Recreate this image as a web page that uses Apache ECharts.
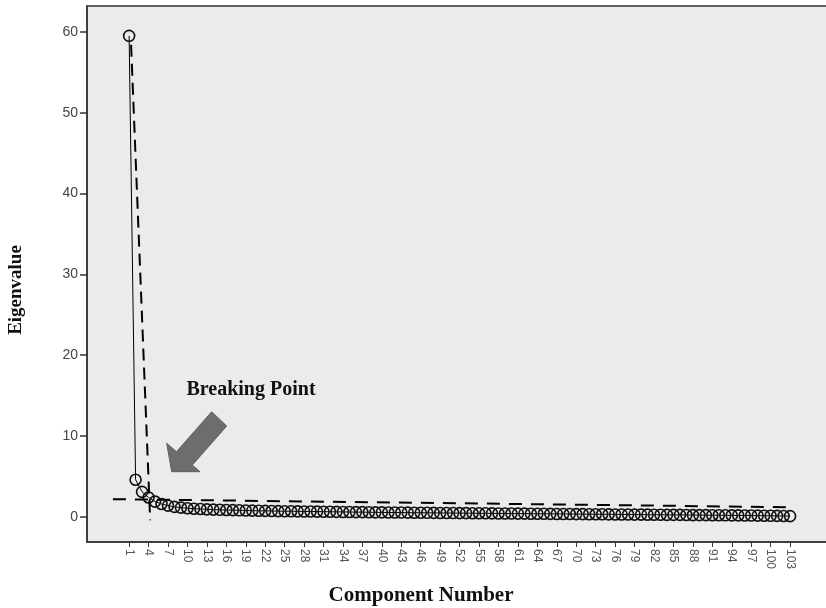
<!DOCTYPE html>
<html><head><meta charset="utf-8">
<script src="https://cdn.jsdelivr.net/npm/echarts@6/dist/echarts.min.js"></script>
<style>html,body{margin:0;padding:0;background:#fff}#c{width:826px;height:608px}</style>
</head><body><div id="c"></div>
<script>
// Component numbers 1..103
var components = [];
for (var i = 1; i <= 103; i++) components.push(i);
// Eigenvalues
var eigenvalues = [
 59.5, 4.6, 3.1, 2.4, 1.9, 1.6, 1.4, 1.25, 1.15, 1.08,
 1.02, 0.98, 0.94, 0.91, 0.88, 0.86, 0.84, 0.82, 0.80, 0.78,
 0.76, 0.75, 0.74, 0.72, 0.71, 0.70, 0.69, 0.68, 0.67, 0.66,
 0.65, 0.64, 0.63, 0.62, 0.61, 0.60, 0.59, 0.58, 0.57, 0.56,
 0.55, 0.55, 0.54, 0.53, 0.52, 0.52, 0.51, 0.50, 0.49, 0.49,
 0.48, 0.47, 0.47, 0.46, 0.45, 0.45, 0.44, 0.43, 0.43, 0.42,
 0.41, 0.41, 0.40, 0.39, 0.39, 0.38, 0.37, 0.37, 0.36, 0.35,
 0.35, 0.34, 0.33, 0.33, 0.32, 0.31, 0.31, 0.30, 0.29, 0.29,
 0.28, 0.27, 0.27, 0.26, 0.25, 0.25, 0.24, 0.23, 0.23, 0.22,
 0.21, 0.21, 0.20, 0.19, 0.19, 0.18, 0.17, 0.16, 0.15, 0.14,
 0.13, 0.12, 0.10
];
var xTickLabels = [1,4,7,10,13,16,19,22,25,28,31,34,37,40,43,46,49,52,55,58,61,64,67,70,73,76,79,82,85,88,91,94,97,100,103];
var yTickLabels = [0,10,20,30,40,50,60];
// Annotation guide lines (data coordinates)
var steepLine = [[1.3, 58.4], [4.25, -0.4]];
var flatLine = [[-1.5, 2.2], [103, 1.2]];

var screeData = components.map(function (c, i) { return [c, eigenvalues[i]]; });

var chart = echarts.init(document.getElementById('c'), null, {renderer: 'canvas'});
chart.setOption({
  animation: false,
  backgroundColor: '#fff',
  grid: {left: 87, top: 6, width: 752, height: 536, show: true, outerBoundsMode: 'none', containLabel: false,
         backgroundColor: '#ebebeb', borderColor: '#333', borderWidth: 1.5},
  xAxis: {
    type: 'value', min: -5.5, max: 110.55,
    axisLine: {show: true, onZero: false, lineStyle: {color: '#333', width: 1.5}},
    axisTick: {show: true, length: 5, customValues: xTickLabels, lineStyle: {color: '#333'}},
    axisLabel: {customValues: xTickLabels, rotate: -90, color: '#555', fontSize: 12,
                fontFamily: 'Liberation Sans, Arial', margin: 7},
    splitLine: {show: false}
  },
  yAxis: {
    type: 'value', min: -3.1, max: 63.2,
    axisLine: {show: true, onZero: false, lineStyle: {color: '#333', width: 1.5}},
    axisTick: {show: true, length: 7, customValues: yTickLabels, lineStyle: {color: '#333', width: 1.5}},
    axisLabel: {customValues: yTickLabels, color: '#444', fontSize: 14,
                fontFamily: 'Liberation Sans, Arial', margin: 9},
    splitLine: {show: false}
  },
  series: [
    {type: 'line', data: screeData, symbol: 'circle', symbolSize: 11,
     lineStyle: {color: '#000', width: 1},
     itemStyle: {color: 'rgba(0,0,0,0)', borderColor: '#111', borderWidth: 1.6},
     z: 3},
    {type: 'line', data: steepLine, symbol: 'none',
     lineStyle: {color: '#000', width: 2, type: [12, 7]}, z: 4},
    {type: 'line', data: flatLine, symbol: 'none',
     lineStyle: {color: '#000', width: 2, type: [13, 9]}, z: 4}
  ],
  graphic: [
    {type: 'polygon', z: 10,
     shape: {points: [[211.7,411.7],[226.7,426],[192.3,465.1],[200,471.7],[171.7,471.7],[166.7,443.3],[176.5,451.7]]},
     style: {fill: '#6d6d6d', stroke: '#5e5e5e', lineWidth: 1}},
    {type: 'text', z: 10, x: 251, y: 390,
     style: {text: 'Breaking Point', fill: '#111', font: 'bold 20px "Liberation Serif", "Times New Roman", serif',
             align: 'center', verticalAlign: 'middle'}},
    {type: 'text', z: 10, x: 421, y: 596,
     style: {text: 'Component Number', fill: '#111', font: 'bold 21px "Liberation Serif", "Times New Roman", serif',
             align: 'center', verticalAlign: 'middle'}},
    {type: 'text', z: 10, x: 16, y: 290, rotation: Math.PI / 2,
     style: {text: 'Eigenvalue', fill: '#111', font: 'bold 19px "Liberation Serif", "Times New Roman", serif',
             align: 'center', verticalAlign: 'middle'}}
  ]
});
</script></body></html>
